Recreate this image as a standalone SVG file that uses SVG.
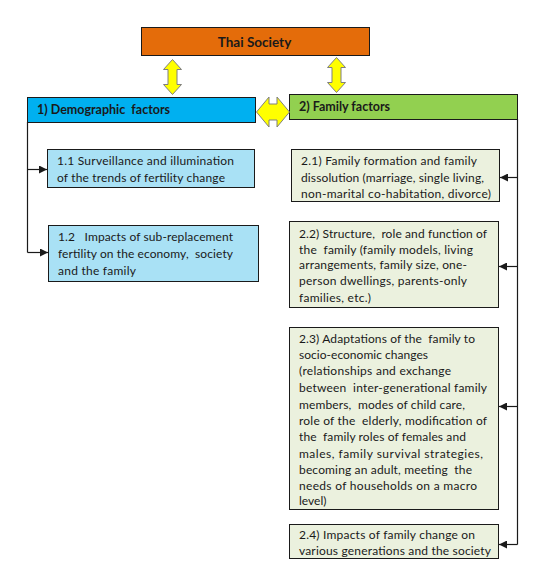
<svg xmlns="http://www.w3.org/2000/svg" width="543" height="585" viewBox="0 0 543 585">
<style>
text{font-family:Lato,"Liberation Sans",sans-serif;fill:#1a1a1a}
.h{font-weight:bold;font-size:12.5px}
.t{font-size:12px}
.box{stroke:#1a1a1a;stroke-width:1}
.lb{fill:#A9E1F5}
.lg{fill:#EBF1DE}
.ya{fill:#FFFF00;stroke:#7f7f7f;stroke-width:1}
.ln{fill:none;stroke:#1a1a1a;stroke-width:1.2}
</style>
<defs>
<marker id="ah" viewBox="0 0 10 10" refX="10" refY="5" markerWidth="9" markerHeight="8" markerUnits="userSpaceOnUse" orient="auto">
<path d="M0,0 L10,5 L0,10 z" fill="#1a1a1a"/>
</marker>
</defs>
<rect width="543" height="585" fill="#ffffff"/>

<g id="thai-society">
<rect class="box" x="141.5" y="27.5" width="228" height="28" fill="#E46C0A"/>
<text class="h" x="254.5" y="46.5" text-anchor="middle" style="font-size:13.5px">Thai Society</text>
</g>

<g id="demographic-factors">
<rect class="box" x="27.5" y="97.5" width="228" height="25" fill="#00B0F0"/>
<text class="h" x="37" y="113.5" xml:space="preserve">1) Demographic  factors</text>
</g>

<g id="family-factors">
<rect class="box" x="289.5" y="94.5" width="228" height="25" fill="#92D050"/>
<text class="h" x="299" y="111">2) Family factors</text>
</g>

<g id="box-1-1">
<rect class="box lb" x="47.5" y="149.5" width="207" height="38"/>
<text class="t" x="57" y="165" textLength="177">1.1 Surveillance and illumination</text>
<text class="t" x="57" y="181.5" textLength="168">of the trends of fertility change</text>
</g>

<g id="box-1-2">
<rect class="box lb" x="48.5" y="225.5" width="210" height="56"/>
<text class="t" x="58" y="241" xml:space="preserve" textLength="175">1.2   Impacts of sub-replacement</text>
<text class="t" x="58" y="258" xml:space="preserve" textLength="175">fertility on the economy,  society</text>
<text class="t" x="58" y="274.5" textLength="78">and the family</text>
</g>

<g id="box-2-1">
<rect class="box lg" x="291.5" y="149.5" width="208" height="52"/>
<text class="t" x="301" y="165" textLength="176">2.1) Family formation and family</text>
<text class="t" x="301" y="181.5" textLength="183">dissolution (marriage, single living,</text>
<text class="t" x="301" y="198" textLength="190">non-marital co-habitation, divorce)</text>
</g>

<g id="box-2-2">
<rect class="box lg" x="289.5" y="221.5" width="209" height="86"/>
<text class="t" x="299" y="237.5" xml:space="preserve" textLength="188">2.2) Structure,  role and function of</text>
<text class="t" x="299" y="253.5" xml:space="preserve" textLength="174">the  family (family models, living</text>
<text class="t" x="299" y="269" textLength="168">arrangements, family size, one-</text>
<text class="t" x="299" y="285" textLength="168">person dwellings, parents-only</text>
<text class="t" x="299" y="301.5" textLength="72">families, etc.)</text>
</g>

<g id="box-2-3">
<rect class="box lg" x="289.5" y="327.5" width="209" height="182"/>
<text class="t" x="299" y="342.5" xml:space="preserve" textLength="176">2.3) Adaptations of the  family to</text>
<text class="t" x="299" y="359" textLength="129">socio-economic changes</text>
<text class="t" x="299" y="375" textLength="152">(relationships and exchange</text>
<text class="t" x="299" y="392" xml:space="preserve" textLength="188">between  inter-generational family</text>
<text class="t" x="299" y="408.5" xml:space="preserve" textLength="166">members,  modes of child care,</text>
<text class="t" x="299" y="425" xml:space="preserve" textLength="188">role of the  elderly, modification of</text>
<text class="t" x="299" y="441" xml:space="preserve" textLength="167">the  family roles of females and</text>
<text class="t" x="299" y="457.5" textLength="184">males, family survival strategies,</text>
<text class="t" x="299" y="473.5" xml:space="preserve" textLength="173">becoming an adult, meeting  the</text>
<text class="t" x="299" y="489.5" textLength="178">needs of households on a macro</text>
<text class="t" x="299" y="504.5">level)</text>
</g>

<g id="box-2-4">
<rect class="box lg" x="289.5" y="524.5" width="209" height="34"/>
<text class="t" x="299" y="538.5" textLength="176">2.4) Impacts of family change on</text>
<text class="t" x="299" y="554.5" textLength="192">various generations and the society</text>
</g>

<g id="connectors">
<path class="ya" d="M172.5,59.5 L181.5,69.5 L177,69.5 L177,84.5 L181.5,84.5 L172.5,94.5 L163.5,84.5 L168,84.5 L168,69.5 L163.5,69.5 Z"/>
<path class="ya" d="M336.5,57.5 L345.5,67.5 L341,67.5 L341,82.5 L345.5,82.5 L336.5,92.5 L327.5,82.5 L332,82.5 L332,67.5 L327.5,67.5 Z"/>
<path class="ya" d="M256.5,112 L269,97 L269,104 L277,104 L277,97 L289.5,112 L277,127 L277,120 L269,120 L269,127 Z"/>
<path class="ln" d="M27.5,122 L27.5,252.5"/>
<path class="ln" d="M27.5,169.5 L47,169.5" marker-end="url(#ah)"/>
<path class="ln" d="M27.5,252.5 L48,252.5" marker-end="url(#ah)"/>
<path class="ln" d="M517.5,119 L517.5,544.5"/>
<path class="ln" d="M517.5,177.5 L500,177.5" marker-end="url(#ah)"/>
<path class="ln" d="M517.5,266.5 L499,266.5" marker-end="url(#ah)"/>
<path class="ln" d="M517.5,406.5 L499,406.5" marker-end="url(#ah)"/>
<path class="ln" d="M517.5,544.5 L499,544.5" marker-end="url(#ah)"/>
</g>
</svg>
